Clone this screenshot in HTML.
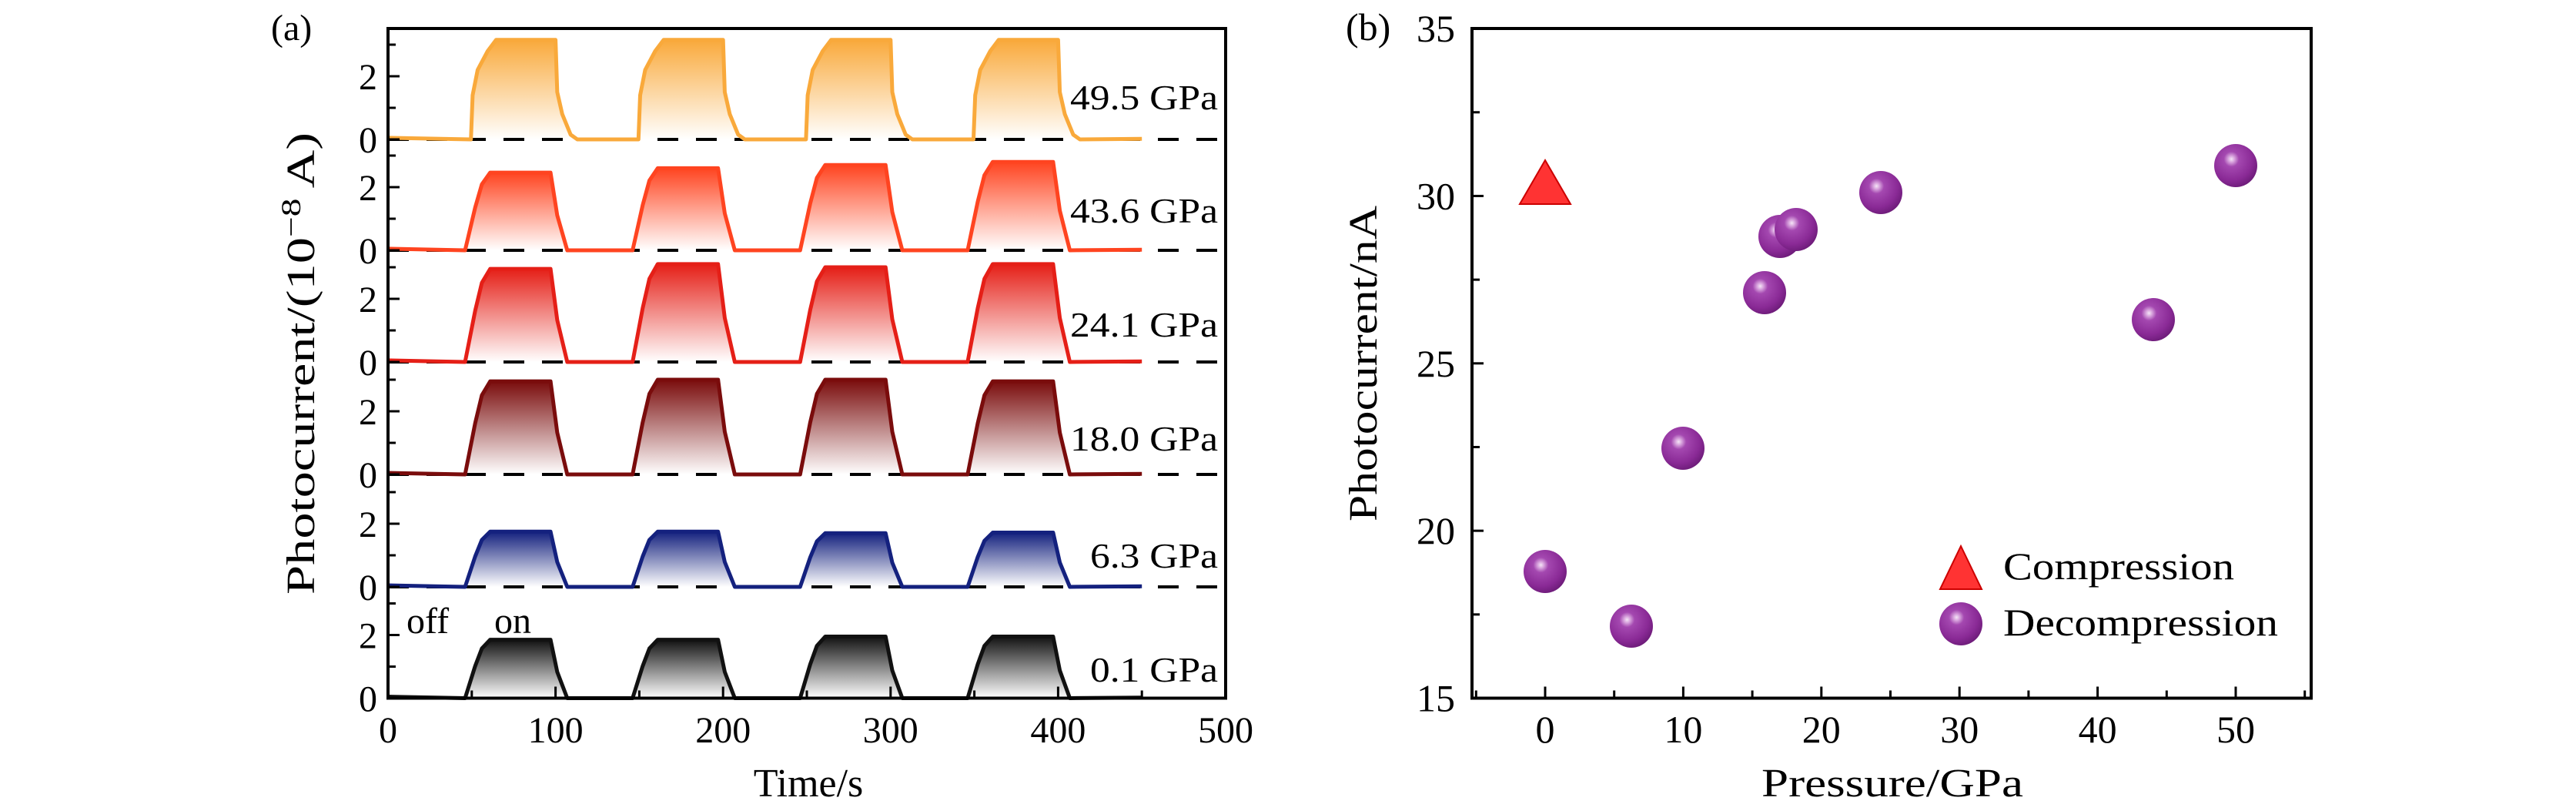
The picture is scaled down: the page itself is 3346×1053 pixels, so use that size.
<!DOCTYPE html>
<html><head><meta charset="utf-8"><style>
html,body{margin:0;padding:0;background:#fff;}
svg{display:block;}
text{font-family:"Liberation Serif",serif;fill:#000;}
</style></head><body>
<svg id="s" xmlns="http://www.w3.org/2000/svg" width="3346" height="1053" viewBox="0 0 3346 1053">
<defs>
<radialGradient id="sph" cx="0.4" cy="0.35" r="0.7">
<stop offset="0" stop-color="#f4e6f6"/>
<stop offset="0.1" stop-color="#d9a6de"/>
<stop offset="0.25" stop-color="#a448b0"/>
<stop offset="0.7" stop-color="#8a2a96"/>
<stop offset="1" stop-color="#6a1a76"/>
</radialGradient>
</defs>
<g id="pa"></g>
<rect x="504" y="37" width="1088" height="869.5" fill="none" stroke="#000" stroke-width="4"/>
<text x="352" y="52" font-size="48">(a)</text>
<text x="1050" y="1034" font-size="52" text-anchor="middle">Time/s</text>
<text transform="translate(408,472) rotate(-90)" font-size="52" text-anchor="middle" textLength="600" lengthAdjust="spacingAndGlyphs">Photocurrent/(10<tspan font-size="36" dy="-18">−8</tspan><tspan dy="18"> A)</tspan></text>
<text x="528" y="822" font-size="48">off</text>
<text x="642" y="822" font-size="48">on</text>

<rect x="1912" y="37" width="1090" height="869.5" fill="none" stroke="#000" stroke-width="4"/>
<text x="1748" y="52" font-size="50">(b)</text>
<g id="pb"></g>
<text x="2458" y="1034" font-size="52" text-anchor="middle" textLength="340" lengthAdjust="spacingAndGlyphs">Pressure/GPa</text>
<text transform="translate(1788,472) rotate(-90)" font-size="52" text-anchor="middle" textLength="410" lengthAdjust="spacingAndGlyphs">Photocurrent/nA</text>
<polygon points="2547,709 2574,765 2520,765" fill="#ff3333" stroke="#c00" stroke-width="2"/>
<circle cx="2547" cy="810" r="28" fill="url(#sph)"/>
<text x="2602" y="752" font-size="50" textLength="300" lengthAdjust="spacingAndGlyphs">Compression</text>
<text x="2602" y="825" font-size="50" textLength="357" lengthAdjust="spacingAndGlyphs">Decompression</text>
<polygon points="2007,208 2040,265 1974,265" fill="#ff3333" stroke="#c00" stroke-width="2"/>
</svg>
<script>
var NS="http://www.w3.org/2000/svg";
function el(t,a,p){var e=document.createElementNS(NS,t);for(var k in a)e.setAttribute(k,a[k]);(p||document.getElementById('s')).appendChild(e);return e;}
var pa=document.getElementById('pa');
var X=function(t){return 504+t*2.176;};
var panels=[
 {b:181,c:"#f9a93b",lab:"49.5 GPa",ly:125,A:[3.15,3.15,3.15,3.15],sharp:1},
 {b:325,c:"#ff4420",lab:"43.6 GPa",ly:272,A:[2.46,2.6,2.7,2.8]},
 {b:470,c:"#e51f17",lab:"24.1 GPa",ly:420,A:[2.95,3.1,3.0,3.1]},
 {b:616,c:"#7a0c0c",lab:"18.0 GPa",ly:568,A:[2.95,3.0,3.0,2.95]},
 {b:762,c:"#14217e",lab:"6.3 GPa",ly:720,A:[1.75,1.75,1.7,1.72]},
 {b:906.5,c:"#111111",lab:"0.1 GPa",ly:868,A:[1.85,1.85,1.95,1.95]}
];
var defs=document.querySelector('defs');
function pulse(p,k){
 var s=(p.sharp?49.5:46)+100*k, e=(p.sharp?100:97)+100*k, A=p.A[k];
 if(p.sharp) return [[s,0],[s+1,1.4],[s+4,2.2],[s+10,2.8],[s+15,A],[e,A],[e+1,1.5],[e+4,0.8],[e+9,0.15],[e+13,0]];
 return [[s,0],[s+6,A*0.55],[s+10,A*0.85],[s+15,A],[e,A],[e+4,A*0.45],[e+10,0]];
}
panels.forEach(function(p,i){
 var g=el('linearGradient',{id:'g'+i,x1:0,y1:0,x2:0,y2:1},defs);
 el('stop',{offset:0,'stop-color':p.c,'stop-opacity':1},g);
 el('stop',{offset:1,'stop-color':p.c,'stop-opacity':0},g);
 var u=41, Y=function(v){return p.b-v*u;};
 var line=[[0,0.05]];
 for(var k=0;k<4;k++){
  var pts=pulse(p,k);
  el('path',{d:"M"+pts.map(function(q){return X(q[0]).toFixed(1)+","+Y(q[1]).toFixed(1);}).join(" L")+" Z",fill:'url(#g'+i+')'},pa);
  line=line.concat(pts);
 }
 line.push([450,0.02]);
 if(i<5) el('line',{x1:504,x2:1592,y1:p.b,y2:p.b,stroke:'#000','stroke-width':4,'stroke-dasharray':'27 23'},pa);
 el('path',{d:"M"+line.map(function(q){return X(q[0]).toFixed(1)+","+Y(q[1]).toFixed(1);}).join(" L"),fill:'none',stroke:p.c,'stroke-width':5,'stroke-linejoin':'round'},pa);
 [0,1,2,3].forEach(function(v){var y=Y(v);if(y<37)return;el('line',{x1:504,x2:504+(v%2?10:15),y1:y,y2:y,stroke:'#000','stroke-width':3},pa);});
 el('text',{x:490,y:Y(0)+17,'font-size':48,'text-anchor':'end'},pa).textContent="0";
 el('text',{x:490,y:Y(2)+17,'font-size':48,'text-anchor':'end'},pa).textContent="2";
 var w=p.lab.length==8?192:166;
 el('text',{x:1582-w,y:p.ly+17,'font-size':46,textLength:w,lengthAdjust:'spacingAndGlyphs'},pa).textContent=p.lab;
});
for(var t=0;t<=500;t+=50){
 el('line',{x1:X(t),x2:X(t),y1:906.5,y2:906.5-(t%100?10:15),stroke:'#000','stroke-width':3},pa);
 if(t%100==0) el('text',{x:X(t),y:964,'font-size':48,'text-anchor':'middle'},pa).textContent=t;
}
var pb=document.getElementById('pb');
var BX=function(v){return 2007+v*17.94;}, BY=function(v){return 906.5-(v-15)*43.47;};
for(var v=-5;v<=55;v+=5){var x=BX(v);if(x<1914||x>3000)continue;
 el('line',{x1:x,x2:x,y1:906.5,y2:906.5-(v%10?10:15),stroke:'#000','stroke-width':3},pb);
 if(v%10==0&&v>=0) el('text',{x:x,y:964,'font-size':50,'text-anchor':'middle'},pb).textContent=v;}
for(var v=15;v<=35;v+=2.5){var y=BY(v);
 el('line',{x1:1912,x2:1912+(v%5?10:15),y1:y,y2:y,stroke:'#000','stroke-width':3},pb);
 if(v%5==0) el('text',{x:1890,y:y+17,'font-size':50,'text-anchor':'end'},pb).textContent=v;}
[[2007,742],[2119,813],[2186,582],[2292,380],[2312,307],[2333,298],[2443,250],[2797,415],[2904,215]].forEach(function(q){
 el('circle',{cx:q[0],cy:q[1],r:28,fill:'url(#sph)'},pb);});
</script>
</body></html>
